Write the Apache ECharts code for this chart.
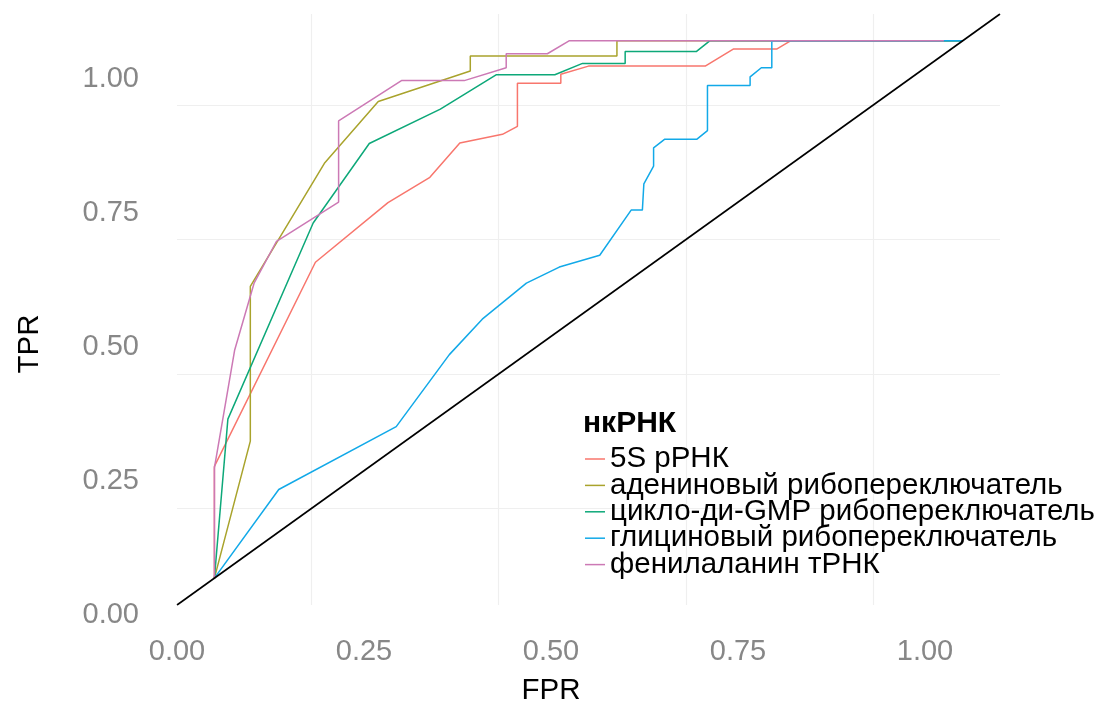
<!DOCTYPE html>
<html>
<head>
<meta charset="utf-8">
<script src="https://cdn.jsdelivr.net/npm/echarts@6/dist/echarts.min.js"></script>
<style>
html,body{margin:0;padding:0;background:#fff;}
#chart{width:1094px;height:704px;}
</style>
</head>
<body>
<div id="chart"></div>
<script>
// ---- data ----
const seriesNames = ['5S рРНК', 'адениновый рибопереключатель', 'цикло-ди-GMP рибопереключатель', 'глициновый рибопереключатель', 'фенилаланин тРНК'];
const seriesColors = ['#F8766D', '#A9A32C', '#0DA879', '#12A9E8', '#CC79B5'];
const tickLabels = [0, 0.25, 0.5, 0.75, 1];
const minorGrid = [0.125, 0.375, 0.625, 0.875];
const diagonal = [[-0.05, -0.05], [1.05, 1.05]];

const roc5S = [[0,0],[0,0.208],[0.135,0.588],[0.232,0.699],[0.288,0.746],[0.328,0.810],[0.385,0.826],[0.405,0.841],[0.405,0.921],[0.463,0.921],[0.463,0.938],[0.500,0.953],[0.656,0.953],[0.694,0.985],[0.752,0.985],[0.770,1],[1,1]];
const rocAdenine = [[0,0],[0.048,0.255],[0.048,0.543],[0.147,0.772],[0.219,0.887],[0.342,0.944],[0.342,0.972],[0.538,0.972],[0.538,1],[1,1]];
const rocCyclic = [[0,0],[0.018,0.296],[0.132,0.661],[0.207,0.809],[0.302,0.873],[0.377,0.937],[0.455,0.937],[0.492,0.958],[0.549,0.958],[0.549,0.980],[0.644,0.980],[0.662,1],[1,1]];
const rocGlycine = [[0,0],[0.086,0.165],[0.243,0.282],[0.314,0.416],[0.358,0.482],[0.417,0.549],[0.461,0.579],[0.515,0.601],[0.557,0.685],[0.572,0.685],[0.574,0.734],[0.587,0.767],[0.587,0.801],[0.602,0.817],[0.645,0.817],[0.659,0.833],[0.659,0.917],[0.716,0.917],[0.716,0.933],[0.731,0.950],[0.745,0.950],[0.745,1],[1,1]];
const rocPhe = [[0,0],[0,0.205],[0.027,0.424],[0.053,0.549],[0.083,0.627],[0.166,0.700],[0.166,0.851],[0.250,0.926],[0.334,0.926],[0.390,0.950],[0.390,0.976],[0.445,0.976],[0.474,1],[0.975,1]];

const rocData = [roc5S, rocAdenine, rocCyclic, rocGlycine, rocPhe];

const FONT = 'Liberation Sans';
const chart = echarts.init(document.getElementById('chart'), null, {renderer: 'canvas'});

const curveSeries = rocData.map((d, i) => ({
  name: seriesNames[i],
  type: 'line',
  data: d,
  xAxisIndex: 0,
  yAxisIndex: 0,
  z: 3,
  showSymbol: false,
  symbol: 'none',
  lineStyle: {width: 1.5, color: seriesColors[i]},
  itemStyle: {color: seriesColors[i]},
  animation: false,
  silent: true
}));

const gridSeries = {
  name: 'grid',
  type: 'line',
  data: [],
  xAxisIndex: 0,
  yAxisIndex: 0,
  z: 0,
  silent: true,
  animation: false,
  markLine: {
    silent: true,
    symbol: 'none',
    label: {show: false},
    animation: false,
    z: 0,
    lineStyle: {color: '#efefef', width: 1.2, type: 'solid'},
    data: minorGrid.map(v => ({xAxis: v})).concat(minorGrid.map(v => ({yAxis: v})))
  }
};

const diagSeries = {
  name: 'diag',
  type: 'line',
  data: diagonal,
  xAxisIndex: 0,
  yAxisIndex: 0,
  z: 4,
  symbol: 'none',
  lineStyle: {width: 1.6, color: '#000'},
  silent: true,
  animation: false
};

const option = {
  animation: false,
  backgroundColor: '#ffffff',
  grid: [
    {left: 177, right: 94, top: 14, bottom: 99, containLabel: false, outerBoundsMode: 'none'},
    {left: 177, right: 94, top: 24, bottom: 89, containLabel: false, outerBoundsMode: 'none'}
  ],
  title: {
    text: 'нкРНК',
    left: 583, top: 409, padding: 0,
    textStyle: {fontFamily: FONT, fontSize: 30, fontWeight: 'bold', color: '#000'}
  },
  legend: {
    data: seriesNames,
    orient: 'vertical',
    left: 585, top: 444,
    padding: 0,
    itemGap: -3.6,
    itemWidth: 20,
    itemHeight: 1.5,
    icon: 'rect',
    selectedMode: false,
    textStyle: {fontFamily: FONT, fontSize: 29.5, color: '#000'}
  },
  xAxis: [
    {gridIndex: 0, type: 'value', min: -0.05, max: 1.05, show: false, position: 'bottom'},
    {
      gridIndex: 0,
      type: 'value', min: 0, max: 1.1003, position: 'bottom',
      axisLine: {show: false}, axisTick: {show: false}, splitLine: {show: false},
      axisLabel: {
        customValues: tickLabels,
        formatter: v => v.toFixed(2),
        margin: 32, fontFamily: FONT, fontSize: 29, color: '#878787'
      },
      name: 'FPR', nameLocation: 'middle', nameGap: 71,
      nameTextStyle: {fontFamily: FONT, fontSize: 29.5, color: '#000', padding: [0, 75, 0, 0]}
    },
    {gridIndex: 1, type: 'value', min: 0, max: 1, show: false}
  ],
  yAxis: [
    {gridIndex: 0, type: 'value', min: -0.05, max: 1.05, show: false, position: 'left'},
    {
      gridIndex: 0,
      type: 'value', min: 0, max: 1.1, position: 'left',
      axisLine: {show: false}, axisTick: {show: false}, splitLine: {show: false},
      axisLabel: {show: false},
      name: 'TPR', nameLocation: 'middle', nameGap: 132, nameRotate: 90,
      nameTextStyle: {fontFamily: FONT, fontSize: 29.5, color: '#000', padding: [0, 69, 0, 0]}
    },
    {
      gridIndex: 1,
      type: 'value', min: 0, max: 1.1026, position: 'left',
      axisLine: {show: false}, axisTick: {show: false}, splitLine: {show: false},
      axisLabel: {
        customValues: tickLabels,
        formatter: v => v.toFixed(2),
        margin: 38, fontFamily: FONT, fontSize: 29, color: '#878787'
      }
    }
  ],
  series: [gridSeries].concat(curveSeries).concat([diagSeries])
};
chart.setOption(option);
</script>
</body>
</html>
